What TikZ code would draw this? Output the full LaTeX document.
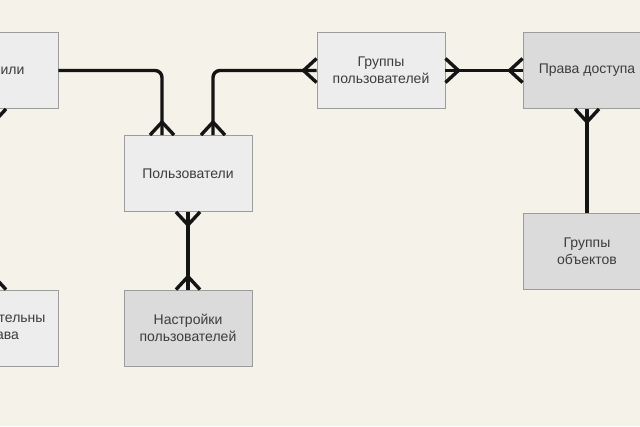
\documentclass[tikz,border=0pt]{standalone}
\usepackage{fontspec}
\setmainfont{Liberation Sans}
\usepackage{xcolor}
\definecolor{bg}{HTML}{F4F2E9}
\definecolor{fillA}{HTML}{EDEDEE}
\definecolor{fillB}{HTML}{DBDBDB}
\definecolor{edge}{HTML}{9C9C9C}
\definecolor{txt}{HTML}{3C3C3C}

\begin{document}
\begin{tikzpicture}[x=1pt,y=-1pt,
  box/.style={draw=edge, line width=0.9pt, fill=fillA, minimum width=128pt, minimum height=76pt,
    align=center, text=txt, font=\fontsize{14}{17}\selectfont},
  darkbox/.style={box, fill=fillB},
  conn/.style={draw=black!92, line width=3.4pt},
  crow/.pic={\draw[conn] (0,0) -- (13,-12) (0,0) -- (13,12);}]
\useasboundingbox (0,0) rectangle (640,426);
\clip (0,0) rectangle (640,426);
\fill[bg] (0,0) rectangle (640,426);

\node[box] (prof) at (-6,70.5) {Профили};
\node[box] (polz) at (188,173.5) {Пользователи};
\node[box] (grpolz) at (381,70.5) {Группы\\пользователей};
\node[darkbox] (prava) at (587,70.5) {Права доступа};
\node[darkbox] (grobj) at (587,251) {Группы\\объектов};
\node[darkbox] (nastr) at (188,328) {Настройки\\пользователей};
\node[box] (dop) at (-6,328) {Дополнительны\\е права};

% links
\draw[conn, rounded corners=7] (prof.east) -| ([xshift=-26pt]polz.north);
\draw[conn, rounded corners=7] (grpolz.west) -| ([xshift=25pt]polz.north);
\draw[conn] (grpolz.east) -- (prava.west);
\draw[conn] (prava.south) -- (grobj.north);
\draw[conn] (polz.south) -- (nastr.north);
\draw[conn] (prof.south) -- (dop.north);

% crow's feet
\pic[rotate=-90] at ([xshift=-26pt,yshift=13pt]polz.north) {crow};
\pic[rotate=-90] at ([xshift=25pt,yshift=13pt]polz.north) {crow};
\pic[rotate=0] at ([xshift=-13pt]grpolz.west) {crow};
\pic[rotate=180] at ([xshift=13pt]grpolz.east) {crow};
\pic[rotate=0] at ([xshift=-13pt]prava.west) {crow};
\pic[rotate=90] at ([yshift=-13pt]prava.south) {crow};
\pic[rotate=90] at ([yshift=-13pt]polz.south) {crow};
\pic[rotate=-90] at ([yshift=13pt]nastr.north) {crow};
\pic[rotate=90] at ([yshift=-13pt]prof.south) {crow};
\pic[rotate=-90] at ([yshift=13pt]dop.north) {crow};
\end{tikzpicture}
\end{document}
